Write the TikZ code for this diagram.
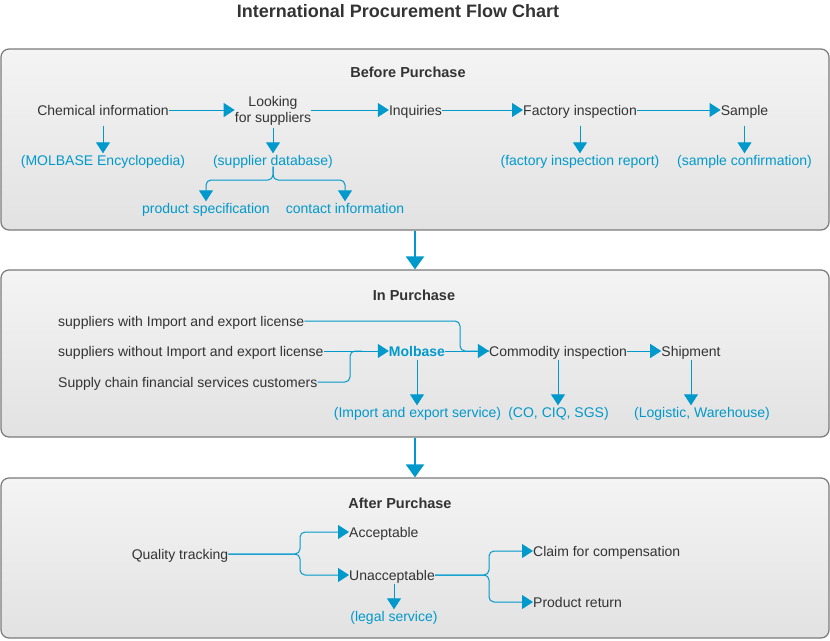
\documentclass[tikz,border=0pt]{standalone}
\usepackage{fontspec}
\setmainfont{Liberation Sans}
\usetikzlibrary{positioning,calc,arrows.meta}
\definecolor{mbBlue}{HTML}{0099CC}
\definecolor{txtGray}{HTML}{333333}
\definecolor{frameGray}{HTML}{7A7A7A}
\definecolor{topGray}{HTML}{F4F4F4}
\definecolor{botGray}{HTML}{E2E2E2}

\begin{document}
\begin{tikzpicture}[x=1pt, y=-1pt,
    every node/.style={font=\fontsize{14}{16}\selectfont, text=txtGray, inner sep=0pt,
        text height=12pt, text depth=1pt},
    stage/.style={draw=frameGray, line width=1.2pt, rounded corners=8pt,
        top color=topGray, bottom color=botGray, minimum width=828pt},
    head/.style={font=\bfseries\fontsize{14.5}{16}\selectfont},
    note/.style={text=mbBlue},
    link/.style={draw=mbBlue, line width=1pt},
    flow/.style={link, -{Triangle[length=11pt, width=14pt]}},
    drop/.style={flow, shorten <=#1},
    pass/.style={draw=mbBlue, line width=2pt, -{Triangle[length=13pt, width=18pt]}}]

            \fill[white] (0,0) rectangle (830,640);
            \useasboundingbox (0,0) rectangle (830,640);

            % Title
            \node[font=\bfseries\fontsize{18}{20}\selectfont] (title) at (398,12)
                {International Procurement Flow Chart};

            % Stage boxes
            \node[stage, minimum height=181pt] (before) at (415,139.5) {};
            \node[stage, minimum height=167pt] (during) at (415,353.5) {};
            \node[stage, minimum height=160pt] (after) at (415,558) {};
            \draw[pass] (before.south) -- (during.north);
            \draw[pass] (during.south) -- (after.north);

            % Before purchase
            \node[head] (bfh) at (408,72) {Before Purchase};
            \node (chem) at (103,110) {Chemical information};
            \node[align=center, text height=, text depth=] (look) at (273,111) {Looking\\for suppliers};
            \node (inq) at (415.5,110) {Inquiries};
            \node (fac) at (580,110) {Factory inspection};
            \node (smp) at (744.5,110) {Sample};
            \node[note] (enc) at (103,160) {(MOLBASE Encyclopedia)};
            \node[note] (sdb) at (273,160) {(supplier database)};
            \node[note] (fir) at (580,160) {(factory inspection report)};
            \node[note] (smc) at (744.5,160) {(sample confirmation)};
            \node[note] (spec) at (206,208) {product specification};
            \node[note] (cinfo) at (345,208) {contact information};
            \coordinate (fork) at (273,180);

            \draw[flow] (chem.east) -- (look.west |- chem.east);
            \draw[flow] (look.east |- inq.west) -- (inq.west);
            \draw[flow] (inq.east) -- (fac.west);
            \draw[flow] (fac.east) -- (smp.west);
            \draw[drop=9pt] (chem.south) -- (enc.north);
            \draw[drop=2pt] (look.south) -- (sdb.north);
            \draw[drop=9pt] (fac.south) -- (fir.north);
            \draw[drop=9pt] (smp.south) -- (smc.north);
            \draw[flow, rounded corners=5pt] (sdb.south) -- (fork) -| (spec.north);
            \draw[flow, rounded corners=5pt] (sdb.south) -- (fork) -| (cinfo.north);

            % In purchase
            \node[head] (inh) at (414,295) {In Purchase};
            \node[anchor=west] (wl) at (58,321) {suppliers with Import and export license};
            \node[anchor=west] (nl) at (58,351) {suppliers without Import and export license};
            \node[anchor=west] (scf) at (58,382) {Supply chain financial services customers};
            \node[font=\bfseries\fontsize{14}{16}\selectfont, text=mbBlue] (mb) at (417,351) {Molbase};
            \node (cmi) at (558,351) {Commodity inspection};
            \node (shp) at (691,351) {Shipment};
            \node[note] (ies) at (417.5,412) {(Import and export service)};
            \node[note] (cq) at (558.5,412) {(CO, CIQ, SGS)};
            \node[note] (lw) at (702,412) {(Logistic, Warehouse)};
            \coordinate (j1) at (350,351);
            \coordinate (j2) at (460,321);

            \draw[flow] (nl.east) -- (mb.west);
            \draw[link, rounded corners=5pt] (scf.east) -| (j1) -- ++(12,0);
            \draw[flow] (mb.east) -- (cmi.west);
            \draw[link, rounded corners=5pt] (wl.east) -- (j2) |- (cmi.west);
            \draw[flow] (cmi.east) -- (shp.west);
            \draw[drop=2pt] (mb.south) -- (mb.south |- ies.north);
            \draw[drop=2pt] (cmi.south) -- (cmi.south |- cq.north);
            \draw[drop=2pt] (shp.south) -- (shp.south |- lw.north);

            % After purchase
            \node[head] (afh) at (400,503) {After Purchase};
            \node (qt) at (180,554) {Quality tracking};
            \node[anchor=west] (acc) at (349,532) {Acceptable};
            \node[anchor=west] (unacc) at (349,575) {Unacceptable};
            \node[note] (legal) at (394,616) {(legal service)};
            \node[anchor=west] (claim) at (533,551) {Claim for compensation};
            \node[anchor=west] (ret) at (533,602) {Product return};
            \coordinate (j3) at (300,554);
            \coordinate (j4) at (489,575);

            \draw[flow, rounded corners=5pt] (qt.east) -- (j3) |- (acc.west);
            \draw[flow, rounded corners=5pt] (qt.east) -- (j3) |- (unacc.west);
            \draw[drop=2pt] (unacc.south -| legal.north) -- (legal.north);
            \draw[flow, rounded corners=5pt] (unacc.east) -- (j4) |- (claim.west);
            \draw[flow, rounded corners=5pt] (unacc.east) -- (j4) |- (ret.west);
        \end{tikzpicture}
\end{document}
